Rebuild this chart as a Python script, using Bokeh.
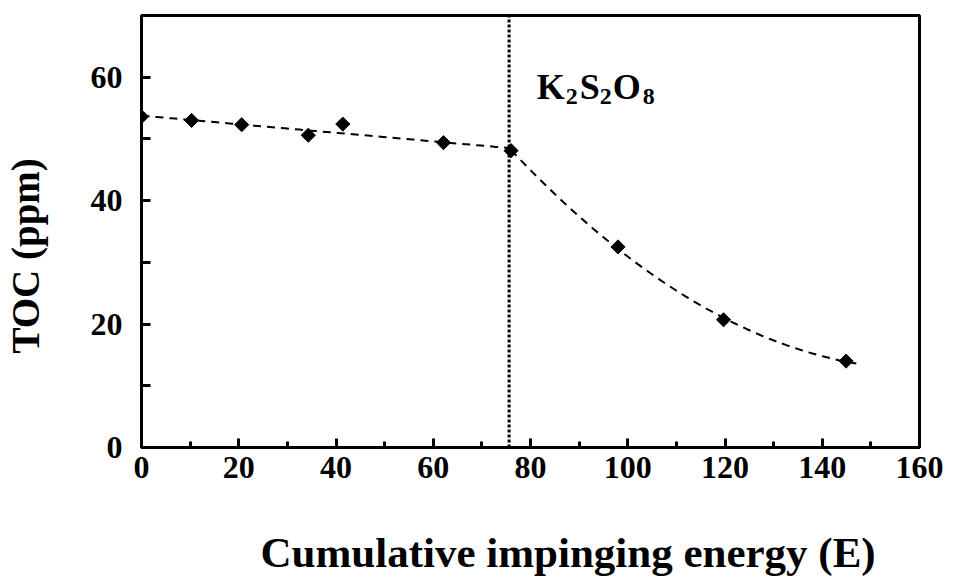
import numpy as np
from bokeh.plotting import figure
from bokeh.models import Range1d, FixedTicker, Label
from bokeh.embed import file_html
from bokeh.resources import INLINE

# Data
x_pre = [0, 10.3, 20.6, 34.3, 41.4, 62.1, 76.0]
y_pre = [53.6, 53.0, 52.3, 50.6, 52.4, 49.4, 48.1]
x_post = [76.0, 98.0, 119.7, 144.9]
y_post = [48.1, 32.5, 20.7, 14.0]
x_all = x_pre + x_post[1:]
y_all = y_pre + y_post[1:]
switch_x = 75.6
trend_end = 147.0
x_ticks = [0, 20, 40, 60, 80, 100, 120, 140, 160]
x_minor = [10, 30, 50, 70, 90, 110, 130, 150]
y_ticks = [0, 10, 20, 30, 40, 50, 60, 70]
y_labels = {0: "0", 10: "", 20: "20", 30: "", 40: "40", 50: "", 60: "60", 70: ""}
x_title = "Cumulative impinging energy (E)"
y_title = "TOC (ppm)"

FONT = "Liberation Serif"
NBSP = "\u00a0"

p = figure(width=954, height=578, output_backend="svg", toolbar_location=None,
           x_range=Range1d(0, 160), y_range=Range1d(0, 70),
           min_border_left=140, min_border_right=35, min_border_top=15,
           min_border_bottom=130)
p.grid.visible = False
p.outline_line_color = "black"
p.outline_line_width = 3
p.background_fill_color = "white"
p.border_fill_color = "white"

# Trend lines (fits computed from the data)
c1 = np.polyfit(x_pre, y_pre, 1)
xs1 = np.linspace(x_pre[0], x_pre[-1], 50)
p.line(xs1, np.polyval(c1, xs1), line_color="black", line_width=2, line_dash="8 6")
c2 = np.polyfit(x_post, y_post, 2)
xs2 = np.linspace(x_post[0], trend_end, 80)
p.line(xs2, np.polyval(c2, xs2), line_color="black", line_width=2, line_dash="8 6")

# Vertical dotted line
p.line([switch_x, switch_x], [0, 70], line_color="black", line_width=3, line_dash="3 2")

# Points
p.scatter(x_all, y_all, marker="square", size=10, angle=np.pi / 4,
          fill_color="black", line_color="black")

# Axes
xa = p.xaxis[0]
xa.ticker = FixedTicker(ticks=x_ticks, minor_ticks=x_minor)
ya = p.yaxis[0]
ya.ticker = FixedTicker(ticks=y_ticks, minor_ticks=[])
ya.major_label_overrides = y_labels
for ax in (xa, ya):
    ax.axis_line_width = 3
    ax.axis_line_color = "black"
    ax.major_tick_in = 9
    ax.major_tick_out = 0
    ax.major_tick_line_width = 3
    ax.minor_tick_in = 6
    ax.minor_tick_out = 0
    ax.minor_tick_line_width = 3
    ax.major_label_text_font = FONT
    ax.major_label_text_font_style = "bold"
    ax.major_label_text_font_size = "32px"
    ax.major_label_text_color = "black"
    ax.axis_label_text_font = FONT
    ax.axis_label_text_font_style = "bold"
    ax.axis_label_text_color = "black"
xa.major_label_standoff = 9
ya.major_label_standoff = 19

# Axis titles (non-breaking spaces shift them off-centre like the reference)
xa.axis_label = NBSP * 7 + x_title
xa.axis_label_text_font_size = "43px"
xa.axis_label_standoff = 48
ya.axis_label = y_title + NBSP * 5
ya.axis_label_text_font_size = "39px"
ya.axis_label_standoff = 41

# K2S2O8 annotation
lab_x, lab_y = 81.3, 58.4
pieces = [("K", 0, 0, "36px"), ("2", 29, -9, "24px"), ("S", 43, 0, "36px"),
          ("2", 63, -9, "24px"), ("O", 76, 0, "36px"), ("8", 106, -9, "24px")]
for txt, dx, dy, fs in pieces:
    p.add_layout(Label(x=lab_x, y=lab_y, x_offset=dx, y_offset=dy, text=txt,
                       text_font=FONT, text_font_style="bold", text_font_size=fs,
                       text_color="black", text_baseline="alphabetic"))

open("out.html", "w").write(file_html(p, INLINE))
